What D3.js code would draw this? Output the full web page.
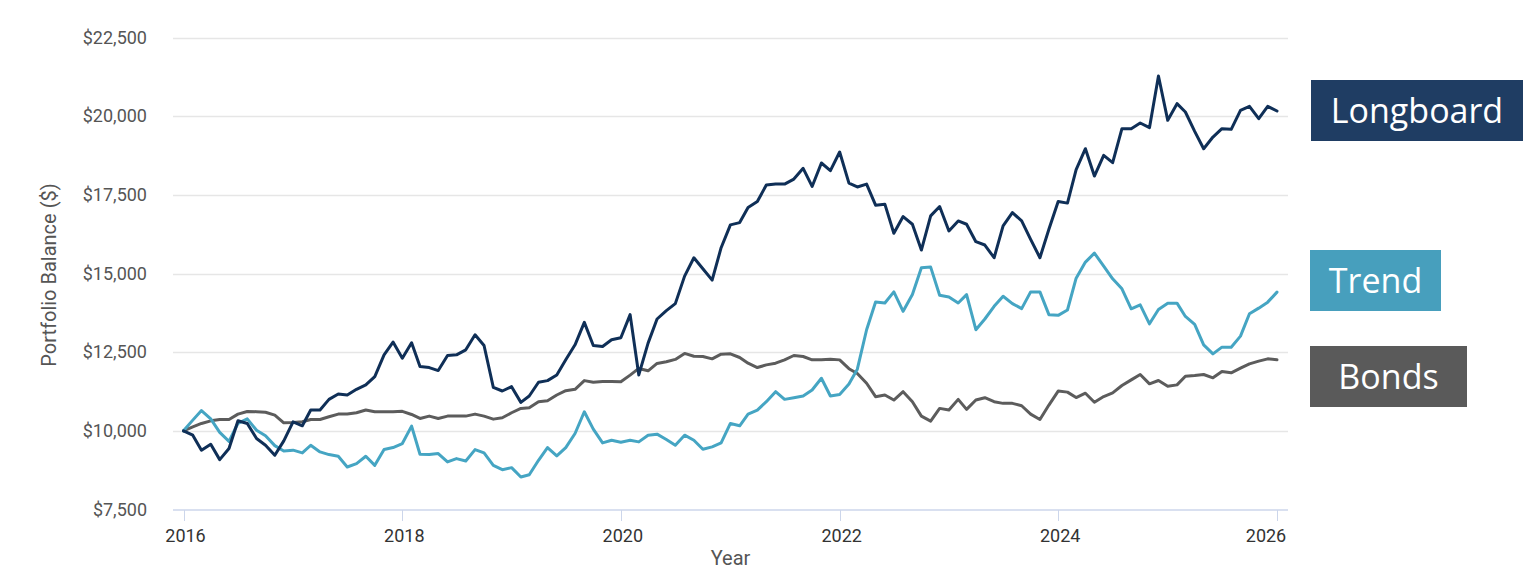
<!DOCTYPE html>
<html>
<head>
<meta charset="utf-8">
<script src="https://cdn.jsdelivr.net/npm/d3@7"></script>
<style>
  html, body { margin: 0; padding: 0; background: #fff; }
  svg { display: block; }
</style>
</head>
<body>
<svg id="chart" width="1538" height="578"></svg>
<script>
// ---------------- DATA ----------------
const startYear = 2016;
const startMonth = 0; // January
const seriesNames = ["Longboard", "Trend", "Bonds"];
const yTickValues = [7500, 10000, 12500, 15000, 17500, 20000, 22500];
const xTickYears = [2016, 2018, 2020, 2022, 2024, 2026];

const longboard = [
  10000, 9862, 9383, 9574, 9085, 9436, 10319, 10234, 9755, 9542, 9223, 9681,
  10287, 10160, 10660, 10660, 11000, 11170, 11138, 11319, 11458, 11724, 12415, 12820,
  12309, 12800, 12043, 12011, 11915, 12394, 12415, 12575, 13054, 12713, 11383, 11266,
  11404, 10904, 11106, 11543, 11596, 11777, 12256, 12734, 13447, 12713, 12681, 12894,
  12960, 13692, 11777, 12788, 13554, 13820, 14043, 14916, 15501, 15150, 14788, 15820,
  16544, 16618, 17097, 17288, 17810, 17842, 17842, 18001, 18342, 17767, 18512, 18267,
  18860, 17870, 17750, 17842, 17171, 17203, 16278, 16810, 16565, 15746, 16831, 17129,
  16352, 16671, 16565, 16011, 15905, 15501, 16512, 16937, 16671, 16086, 15501, 16405,
  17290, 17237, 18300, 18966, 18097, 18754, 18521, 19602, 19602, 19782, 19634, 21277,
  19867, 20397, 20132, 19517, 18966, 19337, 19602, 19581, 20185, 20312, 19920, 20312,
  20164
];
const trend = [
  10000, 10340, 10645, 10380, 9950, 9665, 10240, 10380, 10020, 9845, 9530, 9360,
  9385, 9298, 9542, 9330, 9245, 9191, 8851, 8957, 9191, 8904, 9404, 9468,
  9596, 10150, 9255, 9245, 9277, 9011, 9117, 9043, 9404, 9298, 8904, 8766,
  8830, 8532, 8606, 9064, 9468, 9202, 9468, 9915, 10606, 10053, 9617, 9702,
  9640, 9702, 9649, 9862, 9894, 9723, 9542, 9862, 9702, 9415, 9489, 9617,
  10234, 10160, 10532, 10660, 10926, 11245, 11000, 11053, 11107, 11298, 11670, 11107,
  11155, 11485, 11960, 13213, 14096, 14064, 14416, 13799, 14330, 15182, 15203, 14309,
  14256, 14064, 14330, 13213, 13554, 13958, 14277, 14043, 13884, 14416, 14416, 13692,
  13670, 13840, 14850, 15362, 15648, 15235, 14832, 14514, 13878, 14005, 13401, 13857,
  14058, 14058, 13634, 13380, 12733, 12447, 12659, 12659, 13009, 13719, 13899, 14090,
  14408
];
const bonds = [
  10000, 10127, 10235, 10318, 10362, 10362, 10531, 10616, 10610, 10590, 10500, 10254,
  10266, 10287, 10362, 10362, 10447, 10532, 10532, 10575, 10660, 10606, 10606, 10606,
  10620, 10520, 10394, 10468, 10394, 10468, 10468, 10468, 10532, 10468, 10372, 10415,
  10575, 10713, 10734, 10926, 10958, 11138, 11277, 11319, 11596, 11543, 11564, 11564,
  11557, 11770, 11983, 11907, 12142, 12194, 12270, 12460, 12370, 12362, 12288, 12437,
  12447, 12330, 12149, 12011, 12096, 12149, 12256, 12394, 12362, 12256, 12256, 12277,
  12255, 11975, 11820, 11511, 11085, 11138, 10979, 11245, 10926, 10468, 10309, 10713,
  10660, 11000, 10681, 10979, 11053, 10926, 10873, 10873, 10798, 10532, 10362, 10819,
  11263, 11230, 11056, 11196, 10910, 11090, 11207, 11440, 11620, 11790, 11493, 11599,
  11419, 11461, 11737, 11758, 11790, 11684, 11885, 11843, 11991, 12129, 12214, 12288,
  12256
];

// ---------------- LAYOUT ----------------
const svg = d3.select("#chart");
const plotLeft = 173, plotRight = 1288;
const x = d3.scaleTime()
  .domain([new Date(2016, 0, 1), new Date(2026, 0, 1)])
  .range([183.5, 1277]);
const y = d3.scaleLinear().domain([7500, 22500]).range([509.5, 37.5]);

const dates = longboard.map((_, i) => new Date(startYear, startMonth + i, 1));

// gridlines
svg.append("g").selectAll("line")
  .data(yTickValues.filter(v => v !== 7500))
  .join("line")
  .attr("x1", plotLeft).attr("x2", plotRight)
  .attr("y1", d => Math.round(y(d)) + 0.5).attr("y2", d => Math.round(y(d)) + 0.5)
  .attr("stroke", "#e6e6e6").attr("stroke-width", 1.5);

// y axis labels
const fmt = d3.format(",");
svg.append("g").selectAll("text")
  .data(yTickValues)
  .join("text")
  .attr("x", 147)
  .attr("y", d => y(d))
  .attr("dy", "0.35em")
  .attr("text-anchor", "end")
  .attr("font-family", "Roboto, sans-serif")
  .attr("font-size", 18)
  .attr("fill", "#555")
  .text(d => "$" + fmt(d));

// y title
svg.append("text")
  .attr("transform", "translate(56,275) rotate(-90)")
  .attr("text-anchor", "middle")
  .attr("font-family", "Roboto, sans-serif")
  .attr("font-size", 20)
  .attr("fill", "#555")
  .text("Portfolio Balance ($)");

// x axis
svg.append("line")
  .attr("x1", plotLeft).attr("x2", plotRight)
  .attr("y1", 510).attr("y2", 510)
  .attr("stroke", "#ccd6eb").attr("stroke-width", 1.5);

const xTicks = xTickYears.map(yr => new Date(yr, 0, 1));
const xg = svg.append("g");
xg.selectAll("line").data(xTicks).join("line")
  .attr("x1", d => Math.round(x(d)) + 0.5).attr("x2", d => Math.round(x(d)) + 0.5)
  .attr("y1", 510).attr("y2", 521)
  .attr("stroke", "#ccd6eb").attr("stroke-width", 1);
xg.selectAll("text").data(xTicks).join("text")
  .attr("x", (d, i) => i === xTicks.length - 1 ? x(d) - 11 : x(d) + 2)
  .attr("y", 542)
  .attr("text-anchor", "middle")
  .attr("font-family", "Roboto, sans-serif")
  .attr("font-size", 18)
  .attr("fill", "#333")
  .text(d => d.getFullYear());

svg.append("text")
  .attr("x", (plotLeft + plotRight) / 2)
  .attr("y", 565)
  .attr("text-anchor", "middle")
  .attr("font-family", "Roboto, sans-serif")
  .attr("font-size", 20)
  .attr("fill", "#555")
  .text("Year");

// lines
const line = d3.line().x((d, i) => x(dates[i])).y(d => y(d));
const series = [
  { name: "Bonds", values: bonds, color: "#5c5c5c" },
  { name: "Trend", values: trend, color: "#45a5c3" },
  { name: "Longboard", values: longboard, color: "#0f2f57" }
];
svg.append("g").selectAll("path").data(series).join("path")
  .attr("d", d => line(d.values))
  .attr("fill", "none")
  .attr("stroke", d => d.color)
  .attr("stroke-width", 3)
  .attr("stroke-linejoin", "round")
  .attr("stroke-linecap", "round");

// labels (boxes)
const labelBoxes = [
  { name: seriesNames[0], x: 1311, y: 80, w: 212, h: 61, fill: "#1f3d63" },
  { name: seriesNames[1], x: 1310, y: 250, w: 131, h: 61, fill: "#479fbd" },
  { name: seriesNames[2], x: 1310, y: 346, w: 157, h: 61, fill: "#5a5a5a" }
];
const lg = svg.append("g").selectAll("g").data(labelBoxes).join("g");
lg.append("rect")
  .attr("x", d => d.x).attr("y", d => d.y)
  .attr("width", d => d.w).attr("height", d => d.h)
  .attr("fill", d => d.fill);
lg.append("text")
  .attr("x", d => d.x + d.w / 2)
  .attr("y", d => d.y + 43)
  .attr("text-anchor", "middle")
  .attr("font-family", "'Open Sans', sans-serif")
  .attr("font-size", 34)
  .attr("fill", "#fff")
  .text(d => d.name);
</script>
</body>
</html>
